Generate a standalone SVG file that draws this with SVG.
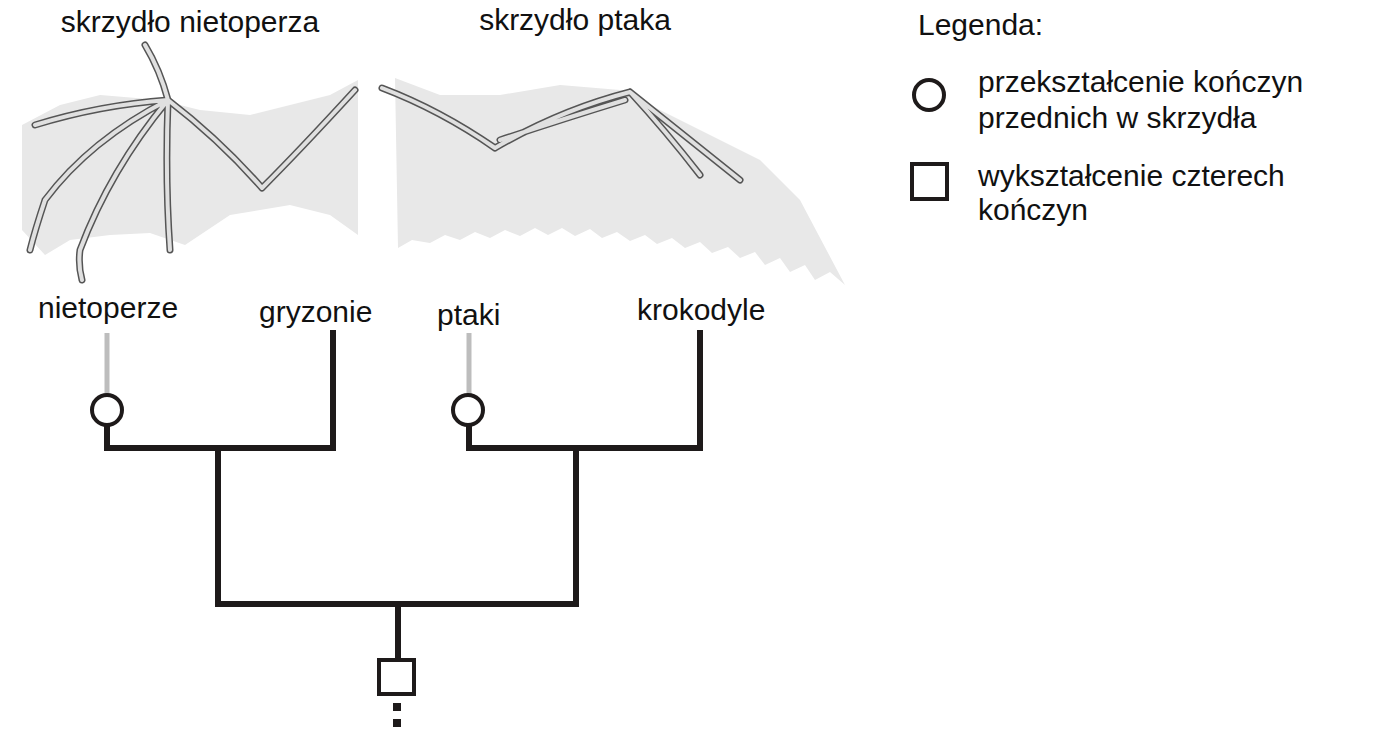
<svg xmlns="http://www.w3.org/2000/svg" width="1400" height="744" viewBox="0 0 1400 744">
<style>
text{font-family:"Liberation Sans",Arial,sans-serif;font-size:30px;fill:#111}
.br{fill:none;stroke:#1e1a1a;stroke-width:6;stroke-linejoin:miter}
.gr{stroke:#bdbdbd;stroke-width:5}
.sym{fill:#fff;stroke:#1e1a1a;stroke-width:4}
.mem{fill:#e8e8e8}
.bone{fill:none;stroke:#555;stroke-width:7;stroke-linecap:round}
.bonei{fill:none;stroke:#e0e0e0;stroke-width:4;stroke-linecap:round}
</style>
<rect width="1400" height="744" fill="#fff"/>
<g id="wings">
<path class="mem" d="M22,125 L60,105 L100,95 L160,100 L200,110 L250,115 L330,95 L358,80 L358,235 L330,215 L290,205 L230,215 L185,245 L150,233 L110,235 L70,240 L45,255 L22,230 Z"/>
<path class="mem" d="M395,78 L440,95 L500,95 L560,85 L620,90 L700,130 L760,160 L800,200 L845,285 L830,272 L815,280 L805,265 L790,272 L780,258 L765,265 L755,252 L740,258 L728,247 L712,253 L700,242 L685,248 L672,238 L657,244 L645,235 L630,241 L617,232 L602,238 L590,229 L575,236 L562,228 L548,235 L535,228 L520,236 L505,230 L490,238 L475,232 L460,240 L445,235 L430,243 L412,240 L398,248 Z"/>
<g>
<path class="bone" d="M355,90 Q300,150 262,188 M262,188 Q220,140 168,100 M168,100 Q160,70 145,45 M168,100 Q100,105 35,125 M168,100 Q90,140 45,200 Q35,230 30,250 M168,100 Q110,170 80,250 Q78,265 82,280 M168,100 Q165,180 170,250"/>
<path class="bonei" d="M355,90 Q300,150 262,188 M262,188 Q220,140 168,100 M168,100 Q160,70 145,45 M168,100 Q100,105 35,125 M168,100 Q90,140 45,200 Q35,230 30,250 M168,100 Q110,170 80,250 Q78,265 82,280 M168,100 Q165,180 170,250"/>
<path class="bone" d="M382,88 Q440,110 495,148 M495,148 Q560,110 630,92 M500,140 Q560,120 625,100 M630,92 Q690,140 740,180 M630,92 Q665,130 700,175"/>
<path class="bonei" d="M382,88 Q440,110 495,148 M495,148 Q560,110 630,92 M500,140 Q560,120 625,100 M630,92 Q690,140 740,180 M630,92 Q665,130 700,175"/>
</g>
</g>
<g id="labels">
<text x="190" y="32" text-anchor="middle">skrzydło nietoperza</text>
<text x="575" y="30" text-anchor="middle">skrzydło ptaka</text>
</g>
<g id="connectors">
<line class="gr" x1="107" y1="333" x2="107" y2="396"/>
<line class="gr" x1="469" y1="333" x2="469" y2="396"/>
<path class="br" d="M107,424 V448 H333 V330"/>
<path class="br" d="M469,424 V448 H700 V330"/>
<path class="br" d="M218,448 V604 H576 V448"/>
<path class="br" d="M398,604 V660"/>
<rect x="393" y="703" width="8" height="8" fill="#1e1a1a"/>
<rect x="393" y="719" width="8" height="8" fill="#1e1a1a"/>
</g>
<g id="nietoperze"><text x="38" y="318">nietoperze</text><circle class="sym" cx="107" cy="410" r="15"/></g>
<g id="gryzonie"><text x="259" y="322">gryzonie</text></g>
<g id="ptaki"><text x="437" y="325">ptaki</text><circle class="sym" cx="468" cy="410" r="15"/></g>
<g id="krokodyle"><text x="637" y="320">krokodyle</text></g>
<g id="root"><rect class="sym" x="379" y="660" width="35" height="34"/></g>
<g id="legend">
<text x="918" y="35">Legenda:</text>
<circle class="sym" cx="929" cy="95" r="15"/>
<text x="978" y="92">przekształcenie kończyn</text>
<text x="978" y="128">przednich w skrzydła</text>
<rect class="sym" x="912" y="164" width="35" height="35"/>
<text x="978" y="186">wykształcenie czterech</text>
<text x="978" y="220">kończyn</text>
</g>
</svg>
